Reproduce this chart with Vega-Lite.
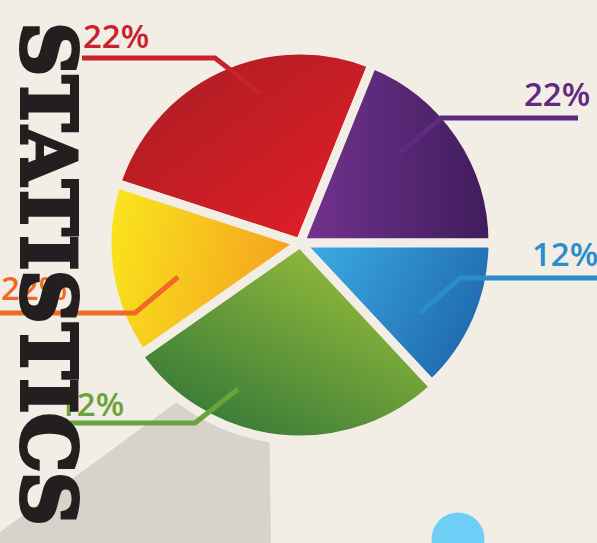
{
  "$schema": "https://vega.github.io/schema/vega-lite/v6.json",
  "width": 597,
  "height": 543,
  "autosize": {"type": "none"},
  "padding": 0,
  "background": "#f3eee5",
  "config": {"view": {"stroke": null}},
  "datasets": {
    "slices": [
      {"slice": "red", "start": 288, "end": 382, "cx": 300, "cy": 243},
      {"slice": "purple", "start": 22, "end": 90, "cx": 300, "cy": 243},
      {"slice": "blue", "start": 90, "end": 137, "cx": 300, "cy": 243},
      {"slice": "green", "start": 137, "end": 235, "cx": 300, "cy": 243},
      {"slice": "yellow", "start": 235, "end": 288, "cx": 300, "cy": 243}
    ],
    "labels": [
      {"slice": "red", "label": "22%", "x": 83, "y": 38},
      {"slice": "purple", "label": "22%", "x": 524, "y": 96},
      {"slice": "blue", "label": "12%", "x": 532, "y": 256},
      {"slice": "yellow", "label": "22%", "x": 1, "y": 290},
      {"slice": "green", "label": "12%", "x": 58, "y": 406}
    ],
    "leaders": [
      {"slice": "red", "o": 1, "x": 82, "y": 58},
      {"slice": "red", "o": 2, "x": 215, "y": 58},
      {"slice": "red", "o": 3, "x": 260, "y": 93},
      {"slice": "purple", "o": 1, "x": 578, "y": 118},
      {"slice": "purple", "o": 2, "x": 441, "y": 118},
      {"slice": "purple", "o": 3, "x": 400, "y": 153},
      {"slice": "blue", "o": 1, "x": 597, "y": 278},
      {"slice": "blue", "o": 2, "x": 460, "y": 278},
      {"slice": "blue", "o": 3, "x": 420, "y": 313},
      {"slice": "yellow", "o": 1, "x": 0, "y": 313},
      {"slice": "yellow", "o": 2, "x": 135, "y": 313},
      {"slice": "yellow", "o": 3, "x": 178, "y": 277},
      {"slice": "green", "o": 1, "x": 60, "y": 423},
      {"slice": "green", "o": 2, "x": 195, "y": 423},
      {"slice": "green", "o": 3, "x": 238, "y": 389}
    ],
    "shadow": [
      {"x": 0, "y": 532, "y2": 543},
      {"x": 268, "y": 335, "y2": 543},
      {"x": 271, "y": 543, "y2": 543}
    ],
    "dot": [{"x": 458, "y": 539}],
    "title": [{"x": 44, "y": 274, "t": "STATISTICS"}]
  },
  "layer": [
    {
      "data": {"name": "shadow"},
      "mark": {"type": "area", "color": "#d7d3cb", "opacity": 1},
      "encoding": {
        "x": {"field": "x", "type": "quantitative", "scale": {"domain": [0, 597], "nice": false, "zero": false}, "axis": null},
        "y": {"field": "y", "type": "quantitative", "scale": {"domain": [0, 543], "reverse": true, "nice": false, "zero": false}, "axis": null},
        "y2": {"field": "y2"}
      }
    },
    {
      "data": {"name": "dot"},
      "mark": {"type": "point", "shape": "circle", "filled": true, "color": "#6dcff6", "opacity": 1, "size": 2800},
      "encoding": {
        "x": {"field": "x", "type": "quantitative"},
        "y": {"field": "y", "type": "quantitative"}
      }
    },
    {
      "data": {"name": "slices"},
      "transform": [{"filter": "datum.slice === 'red'"}],
      "mark": {"type": "arc", "outerRadius": 193, "stroke": "#f3eee5", "strokeWidth": 9,
        "color": {"gradient": "linear", "x1": 0, "y1": 0, "x2": 1, "y2": 1, "stops": [{"offset": 0, "color": "#a61d24"}, {"offset": 1, "color": "#e61e27"}]}},
      "encoding": {
        "x": {"field": "cx", "type": "quantitative"},
        "y": {"field": "cy", "type": "quantitative"},
        "theta": {"field": "start", "type": "quantitative", "stack": null, "scale": {"domain": [0, 360], "range": [0, 6.283185]}},
        "theta2": {"field": "end"}
      }
    },
    {
      "data": {"name": "slices"},
      "transform": [{"filter": "datum.slice === 'purple'"}],
      "mark": {"type": "arc", "outerRadius": 193, "stroke": "#f3eee5", "strokeWidth": 9,
        "color": {"gradient": "linear", "x1": 0, "y1": 0.5, "x2": 1, "y2": 0.5, "stops": [{"offset": 0, "color": "#73338f"}, {"offset": 1, "color": "#3f1c5c"}]}},
      "encoding": {
        "x": {"field": "cx", "type": "quantitative"},
        "y": {"field": "cy", "type": "quantitative"},
        "theta": {"field": "start", "type": "quantitative", "stack": null},
        "theta2": {"field": "end"}
      }
    },
    {
      "data": {"name": "slices"},
      "transform": [{"filter": "datum.slice === 'blue'"}],
      "mark": {"type": "arc", "outerRadius": 193, "stroke": "#f3eee5", "strokeWidth": 9,
        "color": {"gradient": "linear", "x1": 0, "y1": 0.3, "x2": 1, "y2": 0.7, "stops": [{"offset": 0, "color": "#3aa8e0"}, {"offset": 1, "color": "#1d63ab"}]}},
      "encoding": {
        "x": {"field": "cx", "type": "quantitative"},
        "y": {"field": "cy", "type": "quantitative"},
        "theta": {"field": "start", "type": "quantitative", "stack": null},
        "theta2": {"field": "end"}
      }
    },
    {
      "data": {"name": "slices"},
      "transform": [{"filter": "datum.slice === 'green'"}],
      "mark": {"type": "arc", "outerRadius": 197, "stroke": "#f3eee5", "strokeWidth": 9,
        "color": {"gradient": "linear", "x1": 0.9, "y1": 0, "x2": 0.1, "y2": 1, "stops": [{"offset": 0, "color": "#a2c63c"}, {"offset": 1, "color": "#2c7137"}]}},
      "encoding": {
        "x": {"field": "cx", "type": "quantitative"},
        "y": {"field": "cy", "type": "quantitative"},
        "theta": {"field": "start", "type": "quantitative", "stack": null},
        "theta2": {"field": "end"}
      }
    },
    {
      "data": {"name": "slices"},
      "transform": [{"filter": "datum.slice === 'yellow'"}],
      "mark": {"type": "arc", "outerRadius": 193, "stroke": "#f3eee5", "strokeWidth": 9,
        "color": {"gradient": "linear", "x1": 0, "y1": 0.4, "x2": 1, "y2": 0.6, "stops": [{"offset": 0, "color": "#f9e31d"}, {"offset": 1, "color": "#f59c1f"}]}},
      "encoding": {
        "x": {"field": "cx", "type": "quantitative"},
        "y": {"field": "cy", "type": "quantitative"},
        "theta": {"field": "start", "type": "quantitative", "stack": null},
        "theta2": {"field": "end"}
      }
    },
    {
      "data": {"name": "leaders"},
      "mark": {"type": "line", "strokeWidth": 5, "strokeCap": "butt", "strokeJoin": "miter"},
      "encoding": {
        "x": {"field": "x", "type": "quantitative"},
        "y": {"field": "y", "type": "quantitative"},
        "order": {"field": "o", "type": "quantitative"},
        "color": {"field": "slice", "type": "nominal", "legend": null,
          "scale": {"domain": ["red", "purple", "blue", "yellow", "green"], "range": ["#c8232c", "#5f2a82", "#2a8dcc", "#ef6b25", "#6aa33c"]}}
      }
    },
    {
      "data": {"name": "labels"},
      "mark": {"type": "text", "font": "Open Sans", "fontSize": 33, "fontWeight": 600, "align": "left", "baseline": "middle"},
      "encoding": {
        "x": {"field": "x", "type": "quantitative"},
        "y": {"field": "y", "type": "quantitative"},
        "text": {"field": "label"},
        "color": {"field": "slice", "type": "nominal", "legend": null}
      }
    },
    {
      "data": {"name": "title"},
      "mark": {"type": "text", "font": "DejaVu Serif", "fontWeight": "bold", "fontSize": 74, "angle": 90, "align": "center", "baseline": "middle", "color": "#231f20", "stroke": "#231f20", "strokeWidth": 4, "strokeJoin": "miter"},
      "encoding": {
        "x": {"field": "x", "type": "quantitative"},
        "y": {"field": "y", "type": "quantitative"},
        "text": {"field": "t"}
      }
    }
  ]
}
